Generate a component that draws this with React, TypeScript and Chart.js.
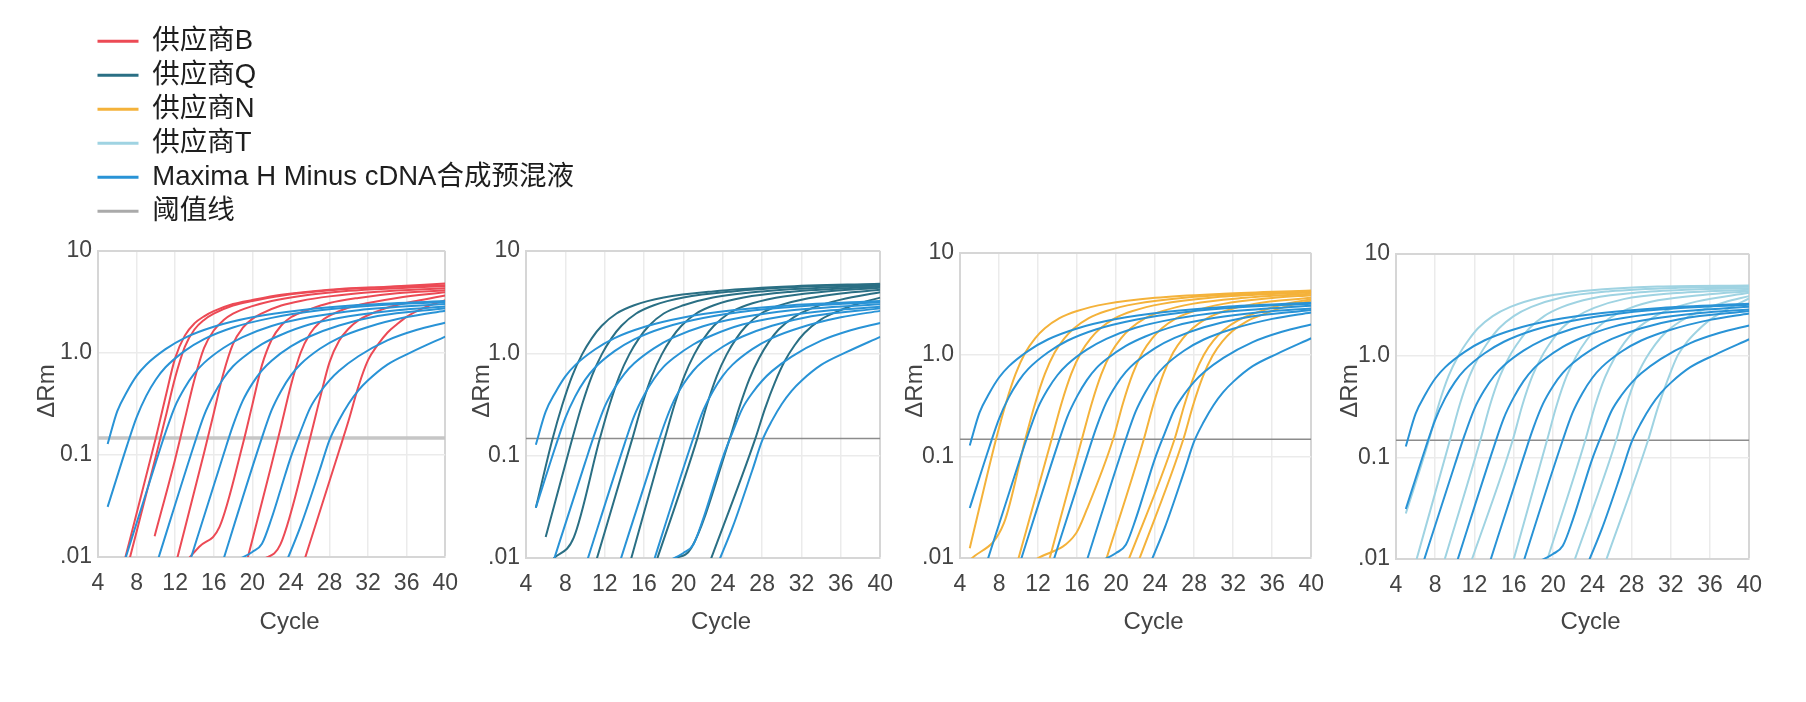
import React, { useEffect, useRef } from "react";
import { Chart, registerables } from "chart.js";

Chart.register(...registerables);

// ---------------- data ----------------
const X_TICKS = [4, 8, 12, 16, 20, 24, 28, 32, 36, 40];
const Y_TICKS = [0.01, 0.1, 1, 10];
const Y_TICK_LABELS = [".01", "0.1", "1.0", "10"];
const X_TITLE = "Cycle";
const Y_TITLE = "ΔRm";
const THRESHOLD = 0.147;

const LEGEND_LABELS = [
  "供应商B",
  "供应商Q",
  "供应商N",
  "供应商T",
  "Maxima H Minus cDNA合成预混液",
  "阈值线",
];

// Maxima H Minus (same runs overlaid in every panel): [cycle, ΔRm]
const MAXIMA = [
  [[5, 0.128], [6, 0.269], [7, 0.417], [8, 0.596], [9, 0.767], [11, 1.09], [13, 1.41], [16, 1.81], [20, 2.24], [25, 2.63], [31, 2.95], [40, 3.24]],
  [[5, 0.031], [7, 0.123], [8, 0.234], [9, 0.38], [10, 0.55], [11, 0.724], [13, 1.05], [15, 1.37], [18, 1.78], [22, 2.21], [27, 2.62], [33, 2.94], [40, 3.16]],
  [[6, 0.0054], [10, 0.085], [11, 0.166], [12, 0.302], [13, 0.457], [14, 0.631], [15, 0.8], [17, 1.12], [19, 1.43], [22, 1.84], [26, 2.25], [31, 2.63], [40, 3.02]],
  [[10, 0.0081], [14, 0.129], [15, 0.245], [16, 0.389], [17, 0.562], [18, 0.741], [19, 0.9], [21, 1.22], [23, 1.51], [26, 1.91], [30, 2.29], [35, 2.63], [40, 2.85]],
  [[13, 0.0063], [17, 0.1], [18, 0.195], [19, 0.339], [20, 0.501], [21, 0.676], [22, 0.841], [24, 1.16], [26, 1.46], [29, 1.86], [33, 2.3], [40, 2.75]],
  [[16, 0.0047], [21, 0.148], [22, 0.275], [23, 0.427], [24, 0.603], [25, 0.776], [27, 1.1], [29, 1.41], [32, 1.8], [36, 2.25], [40, 2.6]],
  [[18.5, 0.0094], [20, 0.0112], [21, 0.0135], [22, 0.024], [23, 0.048], [24, 0.096], [25, 0.17], [26, 0.29], [27, 0.41], [28, 0.54], [29, 0.67], [31, 0.93], [34, 1.33], [37, 1.68], [40, 1.98]],
  [[23, 0.0068], [25, 0.02], [27, 0.072], [28, 0.14], [29, 0.22], [30, 0.32], [31, 0.43], [32, 0.54], [34, 0.77], [36.5, 1.02], [40, 1.45]],
];

// Supplier B
const SUPPLIER_B = [
  [[6, 0.0049], [10, 0.148], [11, 0.37], [12, 0.89], [13, 1.48], [14, 1.95], [15, 2.29], [16, 2.57], [18, 3.02], [20, 3.31], [23, 3.72], [28, 4.17], [34, 4.47], [40, 4.79]],
  [[7, 0.0076], [10, 0.097], [11, 0.234], [12, 0.575], [13, 1.15], [14, 1.7], [15, 2.11], [16, 2.43], [18, 2.92], [20, 3.24], [23, 3.65], [28, 4.12], [34, 4.42], [40, 4.62]],
  [[9.87, 0.016], [12, 0.091], [13, 0.224], [14, 0.55], [15, 1.12], [16, 1.66], [17, 2.09], [18, 2.43], [20, 2.88], [22, 3.24], [25, 3.63], [30, 4.07], [35, 4.32], [40, 4.52]],
  [[12, 0.0081], [15, 0.105], [16, 0.257], [17, 0.63], [18, 1.23], [19, 1.76], [20, 2.16], [21, 2.45], [23, 2.92], [25, 3.24], [28, 3.59], [33, 3.98], [40, 4.32]],
  [[13, 0.0088], [14.5, 0.0126], [16.6, 0.0197], [19, 0.126], [20, 0.31], [21, 0.76], [22, 1.35], [23, 1.86], [24, 2.24], [26, 2.69], [28, 3.09], [31, 3.47], [35, 3.85], [40, 4.12]],
  [[19, 0.0063], [22, 0.081], [23, 0.195], [24, 0.48], [25, 1.0], [26, 1.55], [27, 2.0], [28, 2.32], [30, 2.79], [32, 3.09], [35, 3.47], [40, 3.94]],
  [[21, 0.0093], [22.9, 0.0132], [26, 0.148], [27, 0.355], [28, 0.81], [29, 1.32], [30, 1.74], [31, 2.09], [33, 2.57], [35, 2.95], [37, 3.24], [40, 3.67]],
  [[25, 0.0071], [29, 0.11], [30, 0.22], [31, 0.47], [32, 0.85], [33, 1.2], [34, 1.58], [35, 1.91], [36, 2.26], [38, 2.83], [40, 3.3]],
];

// Supplier Q
const SUPPLIER_Q = [
  [[5, 0.031], [6.7, 0.146], [7.7, 0.316], [8.7, 0.603], [9.7, 0.977], [10.7, 1.41], [11.7, 1.86], [13.2, 2.45], [15, 2.95], [18, 3.51], [23, 4.03], [30, 4.47], [40, 4.79]],
  [[6, 0.016], [8.7, 0.146], [9.7, 0.316], [10.7, 0.603], [11.7, 0.977], [12.7, 1.41], [13.7, 1.86], [15.2, 2.45], [17, 2.95], [20, 3.51], [25, 4.03], [32, 4.47], [40, 4.72]],
  [[6.8, 0.0099], [8.85, 0.0158], [11.5, 0.146], [12.5, 0.316], [13.5, 0.603], [14.5, 0.977], [15.5, 1.41], [16.5, 1.86], [18, 2.45], [20, 2.95], [23, 3.51], [28, 4.03], [35, 4.42], [40, 4.6]],
  [[11, 0.0085], [14.8, 0.146], [15.8, 0.316], [16.8, 0.603], [17.8, 0.977], [18.8, 1.41], [19.8, 1.86], [21.3, 2.45], [23.1, 2.95], [26.1, 3.51], [31, 4.0], [40, 4.5]],
  [[14.5, 0.0085], [18.1, 0.146], [19.1, 0.316], [20.1, 0.603], [21.1, 0.977], [22.1, 1.41], [23.1, 1.86], [24.6, 2.45], [26.4, 2.95], [29.4, 3.5], [34, 3.98], [40, 4.38]],
  [[17, 0.0079], [21.4, 0.146], [22.4, 0.316], [23.4, 0.603], [24.4, 0.977], [25.4, 1.41], [26.4, 1.86], [27.9, 2.45], [29.7, 2.92], [32.7, 3.45], [36, 3.85], [40, 4.18]],
  [[19, 0.0098], [20.8, 0.0125], [24.7, 0.146], [25.7, 0.3], [26.7, 0.56], [27.7, 0.9], [28.7, 1.3], [29.7, 1.72], [31.2, 2.25], [33, 2.75], [36, 3.35], [40, 3.95]],
  [[22.5, 0.0082], [27.3, 0.146], [28.3, 0.29], [29.3, 0.52], [30.3, 0.84], [31.3, 1.2], [32.3, 1.58], [34, 2.15], [36, 2.65], [38, 3.1], [40, 3.5]],
];

// Supplier N
const SUPPLIER_N = [
  [[5, 0.0125], [7.7, 0.148], [8.7, 0.331], [9.7, 0.646], [10.7, 1.05], [11.7, 1.45], [12.7, 1.82], [14.2, 2.29], [16, 2.69], [19, 3.16], [24, 3.63], [31, 3.98], [40, 4.27]],
  [[5, 0.0095], [8.5, 0.022], [10.7, 0.148], [11.7, 0.331], [12.7, 0.646], [13.7, 1.05], [14.7, 1.45], [15.7, 1.82], [17.2, 2.29], [19, 2.69], [22, 3.16], [27, 3.63], [34, 3.98], [40, 4.2]],
  [[9.5, 0.0067], [13.4, 0.148], [14.4, 0.331], [15.4, 0.646], [16.4, 1.05], [17.4, 1.45], [18.4, 1.82], [19.9, 2.29], [21.7, 2.69], [24.7, 3.16], [29.7, 3.63], [36, 3.95], [40, 4.1]],
  [[13, 0.0085], [16.5, 0.148], [17.5, 0.331], [18.5, 0.646], [19.5, 1.05], [20.5, 1.45], [21.5, 1.82], [23, 2.29], [24.8, 2.69], [27.8, 3.16], [32.8, 3.6], [40, 3.98]],
  [[11.8, 0.0097], [15.9, 0.0175], [17, 0.03], [19.7, 0.148], [20.7, 0.331], [21.7, 0.646], [22.7, 1.05], [23.7, 1.45], [24.7, 1.82], [26.2, 2.29], [28, 2.69], [31, 3.16], [36, 3.6], [40, 3.85]],
  [[18.8, 0.0085], [22.85, 0.148], [23.85, 0.331], [24.85, 0.646], [25.85, 1.05], [26.85, 1.45], [27.85, 1.82], [29.35, 2.29], [31.15, 2.69], [34.15, 3.16], [40, 3.62]],
  [[21, 0.0082], [26, 0.148], [27, 0.32], [28, 0.62], [29, 1.0], [30, 1.38], [31, 1.74], [32.5, 2.18], [34.3, 2.58], [37, 3.1], [40, 3.5]],
  [[22, 0.0078], [26.9, 0.148], [27.9, 0.32], [28.9, 0.61], [29.9, 0.98], [30.9, 1.35], [31.9, 1.7], [33.4, 2.13], [35.2, 2.52], [37.5, 3.0], [40, 3.4]],
];

// Supplier T
const SUPPLIER_T = [
  [[5, 0.028], [7.36, 0.148], [8.36, 0.331], [9.36, 0.631], [10.36, 1.0], [11.36, 1.41], [12.36, 1.86], [13.86, 2.45], [15.66, 3.02], [18.66, 3.72], [23.66, 4.37], [30.66, 4.79], [40, 4.9]],
  [[6, 0.0092], [9.5, 0.148], [10.5, 0.331], [11.5, 0.631], [12.5, 1.0], [13.5, 1.41], [14.5, 1.86], [16, 2.45], [17.8, 3.02], [20.8, 3.72], [25.8, 4.3], [32.8, 4.65], [40, 4.75]],
  [[8.8, 0.0088], [12.6, 0.148], [13.6, 0.331], [14.6, 0.631], [15.6, 1.0], [16.6, 1.41], [17.6, 1.86], [19.1, 2.45], [20.9, 3.0], [23.9, 3.65], [28.9, 4.2], [35, 4.5], [40, 4.6]],
  [[11.5, 0.0085], [15.9, 0.148], [16.9, 0.331], [17.9, 0.631], [18.9, 1.0], [19.9, 1.41], [20.9, 1.86], [22.4, 2.42], [24.2, 2.95], [27.2, 3.6], [32.2, 4.1], [40, 4.45]],
  [[15.8, 0.0085], [19.4, 0.148], [20.4, 0.331], [21.4, 0.631], [22.4, 1.0], [23.4, 1.41], [24.4, 1.84], [25.9, 2.38], [27.7, 2.9], [30.7, 3.5], [35.7, 4.0], [40, 4.3]],
  [[19.2, 0.0085], [23.3, 0.148], [24.3, 0.325], [25.3, 0.61], [26.3, 0.96], [27.3, 1.35], [28.3, 1.75], [29.8, 2.25], [31.6, 2.78], [34.6, 3.4], [40, 4.15]],
  [[22, 0.0086], [26.45, 0.148], [27.45, 0.32], [28.45, 0.6], [29.45, 0.93], [30.45, 1.3], [31.45, 1.68], [33, 2.18], [35, 2.75], [37.5, 3.35], [40, 3.85]],
  [[25.2, 0.0085], [29.7, 0.148], [30.7, 0.31], [31.7, 0.58], [32.7, 1.0], [33.7, 1.38], [34.7, 1.75], [36, 2.25], [38, 2.95], [40, 3.65]],
];

// ---------------- styles / layout ----------------
const COLOR_B = "#ec4a55";
const COLOR_Q = "#2a6f84";
const COLOR_N = "#f4b23a";
const COLOR_T = "#9fd3e2";
const COLOR_MAXIMA = "#2993d6";
const COLOR_THRESH_LEGEND = "#aaaaaa";
const LEGEND_COLORS = [COLOR_B, COLOR_Q, COLOR_N, COLOR_T, COLOR_MAXIMA, COLOR_THRESH_LEGEND];

const FONT = "'Liberation Sans', 'Noto Sans CJK SC', Arial, sans-serif";
const TEXT_COLOR = "#444444";
const GRID_COLOR = "#ebebeb";
const BORDER_COLOR = "#d6d6d6";

const Y_AXIS_W = 80;
const X_AXIS_H = 90;
const PAD_TOP = 21;
const PAD_RIGHT = 16;
const TICK_FONT_SIZE = 23;
const TITLE_FONT_SIZE = 24;
const X_TITLE_Y = 622; // page y of the "Cycle" title centre
const X_TITLE_SHIFT = 18; // title sits right of the plot centre
const Y_TITLE_Y = 391; // page y of the ΔRm title centre

type PanelCfg = {
  curves: number[][][];
  color: string;
  thColor: string;
  thWidth: number;
  area: [number, number, number, number]; // left, right, top, bottom of plot area
  yTitleX: number;
};

const PANELS: PanelCfg[] = [
  { curves: SUPPLIER_B, color: COLOR_B, thColor: "#c6c6c6", thWidth: 3.5, area: [98, 455, 251, 557], yTitleX: 47 },
  { curves: SUPPLIER_Q, color: COLOR_Q, thColor: "#8c8c8c", thWidth: 1.6, area: [526, 890, 251, 558], yTitleX: 482 },
  { curves: SUPPLIER_N, color: COLOR_N, thColor: "#8c8c8c", thWidth: 1.6, area: [960, 1321, 253, 558], yTitleX: 915 },
  { curves: SUPPLIER_T, color: COLOR_T, thColor: "#8c8c8c", thWidth: 1.6, area: [1396, 1759, 254, 559], yTitleX: 1350 },
];

const axisTitles = {
  id: "axisTitles",
  afterDraw(chart: any, _args: any, opts: any) {
    const { ctx, chartArea } = chart;
    ctx.save();
    ctx.fillStyle = TEXT_COLOR;
    ctx.font = `${TITLE_FONT_SIZE}px ${FONT}`;
    ctx.textAlign = "center";
    ctx.textBaseline = "middle";
    ctx.fillText(X_TITLE, (chartArea.left + chartArea.right) / 2 + X_TITLE_SHIFT, opts.xTitleY);
    ctx.translate(opts.yTitleX, opts.yTitleY);
    ctx.rotate(-Math.PI / 2);
    ctx.fillText(Y_TITLE, 0, 0);
    ctx.restore();
  },
};

function Panel({ cfg }: { cfg: PanelCfg }) {
  const ref = useRef<HTMLCanvasElement | null>(null);
  const [L, R, T, B] = cfg.area;
  const width = R - L + Y_AXIS_W + PAD_RIGHT;
  const height = B - T + PAD_TOP + X_AXIS_H;
  const left = L - Y_AXIS_W;
  const top = T - PAD_TOP;

  useEffect(() => {
    if (!ref.current) return;
    const lineBase = {
      borderWidth: 2,
      pointRadius: 0,
      fill: false,
      cubicInterpolationMode: "monotone" as const,
    };
    const datasets: any[] = [
      ...MAXIMA.map((c) => ({ ...lineBase, data: c, borderColor: COLOR_MAXIMA })),
      ...cfg.curves.map((c) => ({ ...lineBase, data: c, borderColor: cfg.color })),
      {
        data: [[4, THRESHOLD], [40, THRESHOLD]],
        borderColor: cfg.thColor,
        borderWidth: cfg.thWidth,
        pointRadius: 0,
        fill: false,
        tension: 0,
      },
    ];
    const tickFont = { family: FONT, size: TICK_FONT_SIZE };
    const chart = new Chart(ref.current, {
      type: "line",
      data: { datasets },
      plugins: [axisTitles],
      options: {
        animation: false,
        responsive: false,
        maintainAspectRatio: false,
        devicePixelRatio: 1,
        events: [],
        layout: { padding: { top: PAD_TOP, right: PAD_RIGHT, left: 0, bottom: 0 } },
        plugins: {
          legend: { display: false },
          tooltip: { enabled: false },
          axisTitles: {
            xTitleY: X_TITLE_Y - top,
            yTitleX: cfg.yTitleX - left,
            yTitleY: Y_TITLE_Y - top,
          },
        },
        scales: {
          x: {
            type: "linear",
            min: 4,
            max: 40,
            afterBuildTicks: (s: any) => {
              s.ticks = X_TICKS.map((v) => ({ value: v }));
            },
            afterFit: (s: any) => {
              s.height = X_AXIS_H;
            },
            grid: {
              color: (c: any) => (c.tick && c.tick.value === 40 ? BORDER_COLOR : GRID_COLOR),
              lineWidth: (c: any) => (c.tick && c.tick.value === 40 ? 2 : 1.5),
              drawTicks: false,
            },
            border: { display: true, color: BORDER_COLOR, width: 2 },
            ticks: {
              autoSkip: false,
              maxRotation: 0,
              minRotation: 0,
              padding: 13,
              color: TEXT_COLOR,
              font: tickFont,
              callback: (v: any) => String(v),
            },
          },
          y: {
            type: "logarithmic",
            min: 0.01,
            max: 10,
            afterBuildTicks: (s: any) => {
              s.ticks = Y_TICKS.map((v) => ({ value: v }));
            },
            afterFit: (s: any) => {
              s.width = Y_AXIS_W;
            },
            grid: {
              color: (c: any) => (c.tick && c.tick.value === 10 ? BORDER_COLOR : GRID_COLOR),
              lineWidth: (c: any) => (c.tick && c.tick.value === 10 ? 2 : 1.5),
              drawTicks: false,
            },
            border: { display: true, color: BORDER_COLOR, width: 2 },
            ticks: {
              autoSkip: false,
              padding: 6,
              color: TEXT_COLOR,
              font: tickFont,
              callback: (_v: any, i: number) => Y_TICK_LABELS[i],
            },
          },
        },
      } as any,
    });
    return () => chart.destroy();
  }, [cfg]);

  return (
    <canvas
      ref={ref}
      width={width}
      height={height}
      style={{ position: "absolute", left, top, width, height }}
    />
  );
}

function Legend() {
  const ref = useRef<HTMLCanvasElement | null>(null);
  useEffect(() => {
    if (!ref.current) return;
    const chart = new Chart(ref.current, {
      type: "line",
      data: {
        datasets: LEGEND_LABELS.map((label, i) => ({
          label,
          data: [],
          borderColor: LEGEND_COLORS[i],
          backgroundColor: LEGEND_COLORS[i],
        })),
      },
      options: {
        animation: false,
        responsive: false,
        maintainAspectRatio: false,
        devicePixelRatio: 1,
        events: [],
        layout: { padding: 0 },
        scales: { x: { display: false }, y: { display: false } },
        plugins: {
          tooltip: { enabled: false },
          legend: {
            position: "left",
            align: "start",
            labels: {
              boxWidth: 41,
              boxHeight: 3,
              padding: 6.5,
              color: "#1e1e1e",
              font: { family: FONT, size: 27.5 },
              generateLabels: (ch: any) =>
                ch.data.datasets.map((ds: any, i: number) => ({
                  text: ds.label,
                  fillStyle: ds.borderColor,
                  strokeStyle: ds.borderColor,
                  lineWidth: 0,
                  hidden: false,
                  datasetIndex: i,
                  fontColor: "#1e1e1e",
                })),
            },
          },
        },
      } as any,
    });
    return () => chart.destroy();
  }, []);
  return (
    <canvas
      ref={ref}
      width={1200}
      height={218}
      style={{ position: "absolute", left: 91, top: 21, width: 1200, height: 218 }}
    />
  );
}

export default function App() {
  return (
    <div
      style={{
        position: "absolute",
        left: 0,
        top: 0,
        width: 1806,
        height: 702,
        background: "#ffffff",
        overflow: "hidden",
      }}
    >
      <Legend />
      {PANELS.map((p, i) => (
        <Panel key={i} cfg={p} />
      ))}
    </div>
  );
}
